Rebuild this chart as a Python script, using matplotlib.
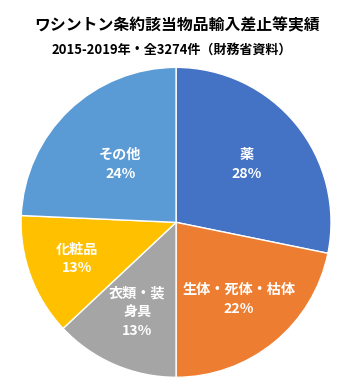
import numpy as np
import matplotlib.pyplot as plt

plt.rcParams['font.family'] = ['Noto Sans CJK JP', 'DejaVu Sans']

# データ（財務省資料, 2015-2019年, 全3274件）
categories = ['薬', '生体・死体・枯体', '衣類・装\n身具', '化粧品', 'その他']
shares = [28.2, 21.8, 13.0, 12.7, 24.3]
colors = ['#4472C4', '#ED7D31', '#A5A5A5', '#FFC000', '#5B9BD5']
label_radius = [0.59, 0.64, 0.63, 0.68, 0.52]

fig = plt.figure(figsize=(3.5, 3.85), dpi=100)
fig.text(0.505, 0.935, 'ワシントン条約該当物品輸入差止等実績', ha='center', va='center',
         fontsize=11.4, fontweight='bold')
fig.text(0.49, 0.87, '2015-2019年・全3274件（財務省資料）', ha='center', va='center',
         fontsize=9.4, fontweight='bold')

ax = fig.add_axes([0.060, 0.020, 0.886, 0.805])
wedges, _ = ax.pie(shares, colors=colors, startangle=90, counterclock=False,
                   radius=1.0, wedgeprops=dict(edgecolor='white', linewidth=1.0))

# ラベル（カテゴリ名＋割合）
for w, name, val, r in zip(wedges, categories, shares, label_radius):
    mid = np.deg2rad((w.theta1 + w.theta2) / 2)
    x, y = r * np.cos(mid), r * np.sin(mid)
    ax.text(x, y, f'{name}\n{val:.0f}%', ha='center', va='center', color='white',
            fontsize=10.2, fontweight='bold', linespacing=1.45)

ax.set_xlim(-1, 1)
ax.set_ylim(-1, 1)
ax.set_aspect('equal')
ax.axis('off')

fig.savefig('out.png', dpi=100)
